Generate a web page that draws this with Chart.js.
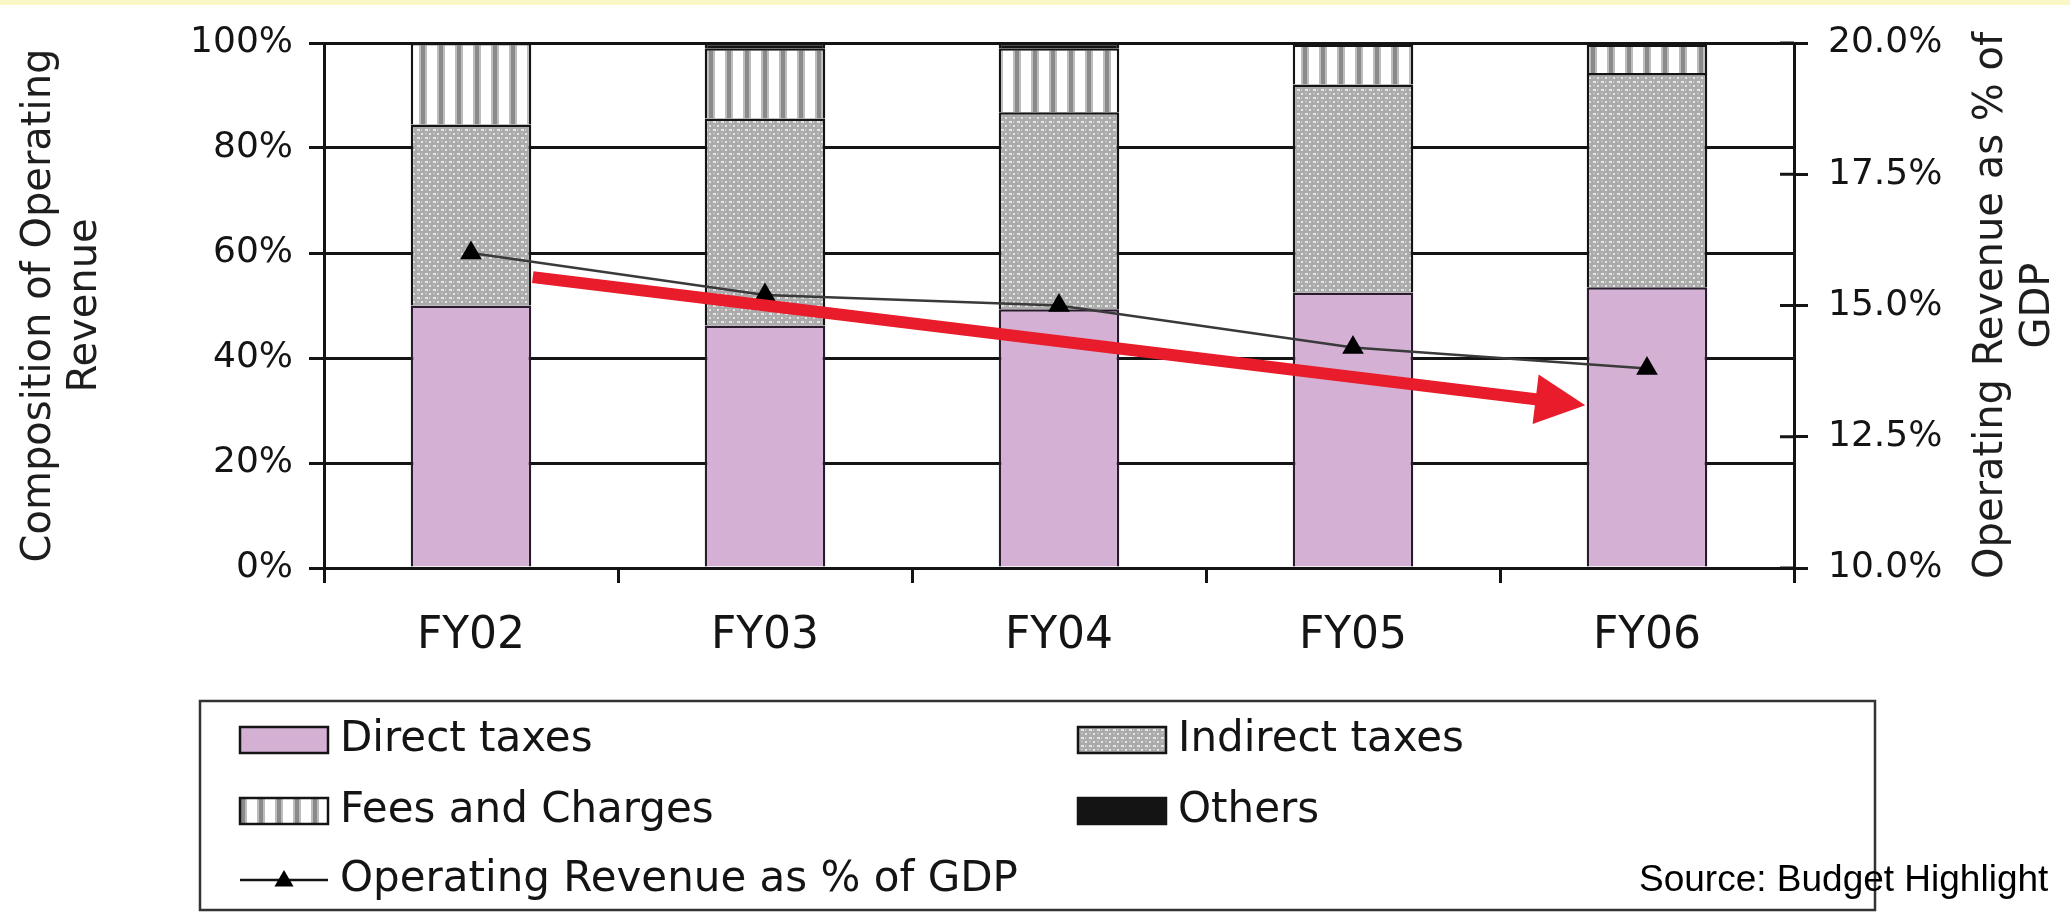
<!DOCTYPE html>
<html>
<head>
<meta charset="utf-8">
<title>Operating Revenue</title>
<script src="https://cdn.jsdelivr.net/npm/chart.js@4.4.1/dist/chart.umd.min.js"></script>
<style>
  html, body { margin: 0; padding: 0; }
  body {
    width: 2070px;
    height: 914px;
    overflow: hidden;
    background: linear-gradient(#faf6c6 0 5px, #ffffff 5px);
  }
</style>
</head>
<body>
<canvas id="revenueChart" width="2070" height="914"></canvas>
<script>
const years = ['FY02', 'FY03', 'FY04', 'FY05', 'FY06'];
const directTaxes = [50.0, 46.2, 49.3, 52.5, 53.5];
const indirectTaxes = [34.5, 39.4, 37.5, 39.6, 40.8];
const feesAndCharges = [15.5, 13.4, 12.2, 7.6, 5.4];
const others = [0, 1.0, 1.0, 0.3, 0.3];
const revenuePctGdp = [16.0, 15.2, 15.0, 14.2, 13.8];

const compositionTicks = [0, 20, 40, 60, 80, 100];
const gdpTicks = [10.0, 12.5, 15.0, 17.5, 20.0];

const leftAxisTitle = ['Composition of Operating', 'Revenue'];
const rightAxisTitle = ['Operating Revenue as % of', 'GDP'];
const sourceNote = 'Source: Budget Highlight';

// red trend arrow, given as [category index, composition %]
const arrowFrom = [0.21, 55.4];
const arrowTo = [3.79, 31.0];

const INK = '#141414';
const AXIS_FONT = 'DejaVu Sans';

// hatch fills like the old spreadsheet chart
function dotPattern() {
  const c = document.createElement('canvas');
  c.width = 8; c.height = 8;
  const g = c.getContext('2d');
  g.fillStyle = '#ababab';
  g.fillRect(0, 0, 8, 8);
  g.fillStyle = '#e4e4e4';
  g.fillRect(1, 1, 3, 2);
  g.fillRect(5, 5, 2, 2);
  g.fillStyle = '#c8c8c8';
  g.fillRect(5, 1, 1, 2);
  g.fillRect(1, 5, 2, 1);
  return g.createPattern(c, 'repeat');
}

function stripePattern() {
  const c = document.createElement('canvas');
  c.width = 18; c.height = 4;
  const g = c.getContext('2d');
  g.fillStyle = '#ffffff';
  g.fillRect(0, 0, 18, 4);
  g.fillStyle = '#bdbdbd';
  g.fillRect(5, 0, 8, 4);
  g.fillStyle = '#8a8a8a';
  g.fillRect(7, 0, 4, 4);
  return g.createPattern(c, 'repeat');
}

const indirectFill = dotPattern();
const feesFill = stripePattern();

function drawTriangle(ctx, x, y, r) {
  ctx.beginPath();
  ctx.moveTo(x, y - r);
  ctx.lineTo(x + r * 0.87, y + r * 0.5);
  ctx.lineTo(x - r * 0.87, y + r * 0.5);
  ctx.closePath();
  ctx.fill();
}

const overlay = {
  id: 'overlay',
  afterDatasetsDraw(chart) {
    const { ctx, scales } = chart;
    const x = scales.x, y = scales.y, y1 = scales.y1;

    // right axis ticks cross the axis line
    ctx.save();
    ctx.strokeStyle = INK;
    ctx.lineWidth = 3;
    y1.ticks.forEach(t => {
      const py = y1.getPixelForValue(t.value);
      ctx.beginPath();
      ctx.moveTo(y1.left - 14, py);
      ctx.lineTo(y1.left, py);
      ctx.stroke();
    });
    ctx.restore();

    // red arrow
    const x0 = x.getPixelForValue(arrowFrom[0]);
    const y0 = y.getPixelForValue(arrowFrom[1]);
    const x2 = x.getPixelForValue(arrowTo[0]);
    const y2 = y.getPixelForValue(arrowTo[1]);
    const ang = Math.atan2(y2 - y0, x2 - x0);
    const headLen = 50, headHalf = 25;
    const bx = x2 - headLen * Math.cos(ang);
    const by = y2 - headLen * Math.sin(ang);
    ctx.save();
    ctx.strokeStyle = '#e81c2a';
    ctx.fillStyle = '#e81c2a';
    ctx.lineWidth = 12;
    ctx.lineCap = 'butt';
    ctx.beginPath();
    ctx.moveTo(x0, y0);
    ctx.lineTo(bx + 2 * Math.cos(ang), by + 2 * Math.sin(ang));
    ctx.stroke();
    ctx.beginPath();
    ctx.moveTo(x2, y2);
    ctx.lineTo(bx + headHalf * Math.sin(ang), by - headHalf * Math.cos(ang));
    ctx.lineTo(bx - headHalf * Math.sin(ang), by + headHalf * Math.cos(ang));
    ctx.closePath();
    ctx.fill();
    ctx.restore();
  },
  afterDraw(chart) {
    const { ctx, chartArea, scales } = chart;

    // right axis title reads bottom to top
    ctx.save();
    ctx.fillStyle = '#1e1e1e';
    ctx.font = '40px "' + AXIS_FONT + '"';
    ctx.textAlign = 'center';
    ctx.textBaseline = 'middle';
    ctx.translate(scales.y1.left + 198, (chartArea.top + chartArea.bottom) / 2);
    ctx.rotate(-Math.PI / 2);
    rightAxisTitle.forEach((line, i) => ctx.fillText(line, 0, i * 47));
    ctx.restore();

    // legend box, two columns
    const box = { left: 200, top: 701, right: 1875, bottom: 910 };
    const cols = [240, 1078];
    const rows = [740, 811, 880];
    ctx.save();
    ctx.fillStyle = '#ffffff';
    ctx.fillRect(box.left, box.top, box.right - box.left, box.bottom - box.top);
    ctx.strokeStyle = '#333';
    ctx.lineWidth = 2.5;
    ctx.strokeRect(box.left, box.top, box.right - box.left, box.bottom - box.top);
    ctx.font = '42px "' + AXIS_FONT + '"';
    ctx.textBaseline = 'middle';
    chart.data.datasets.forEach((ds, i) => {
      const cx = cols[i % 2];
      const cy = rows[Math.floor(i / 2)];
      if (ds.type === 'line') {
        ctx.strokeStyle = INK;
        ctx.lineWidth = 2.5;
        ctx.beginPath();
        ctx.moveTo(cx, cy);
        ctx.lineTo(cx + 88, cy);
        ctx.stroke();
        ctx.fillStyle = '#000';
        drawTriangle(ctx, cx + 44, cy + 1, 11);
      } else {
        ctx.fillStyle = ds.backgroundColor;
        ctx.fillRect(cx, cy - 13, 88, 26);
        ctx.strokeStyle = INK;
        ctx.lineWidth = 2.5;
        ctx.strokeRect(cx, cy - 13, 88, 26);
      }
      ctx.fillStyle = INK;
      ctx.fillText(ds.label, cx + 100, cy);
    });

    // source note sits over the legend border
    ctx.font = '37px "Liberation Sans"';
    ctx.fillStyle = '#000';
    ctx.textAlign = 'left';
    ctx.fillText(sourceNote, 1639, 881);
    ctx.restore();
  }
};

const barBase = {
  type: 'bar',
  borderColor: INK,
  borderWidth: 2.5,
  barPercentage: 0.41,
  categoryPercentage: 1.0,
  order: 1
};

const chart = new Chart(document.getElementById('revenueChart'), {
  data: {
    labels: years,
    datasets: [
      { ...barBase, label: 'Direct taxes', data: directTaxes, backgroundColor: '#d4b0d4', borderColor: '#2a1a2e' },
      { ...barBase, label: 'Indirect taxes', data: indirectTaxes, backgroundColor: indirectFill },
      { ...barBase, label: 'Fees and Charges', data: feesAndCharges, backgroundColor: feesFill },
      { ...barBase, label: 'Others', data: others, backgroundColor: '#141414' },
      {
        type: 'line',
        label: 'Operating Revenue as % of GDP',
        data: revenuePctGdp,
        yAxisID: 'y1',
        order: 0,
        borderColor: '#3a3a3a',
        borderWidth: 2.5,
        tension: 0,
        pointStyle: 'triangle',
        pointRadius: 10,
        pointBackgroundColor: '#000',
        pointBorderColor: '#000'
      }
    ]
  },
  options: {
    responsive: false,
    devicePixelRatio: 1,
    animation: false,
    events: [],
    layout: { padding: { top: 43, bottom: 246, left: 0, right: 0 } },
    plugins: {
      legend: { display: false },
      tooltip: { enabled: false }
    },
    scales: {
      x: {
        stacked: true,
        offset: true,
        grid: { offset: true, drawOnChartArea: false, tickLength: 15, color: INK, lineWidth: 3 },
        border: { color: INK, width: 3 },
        ticks: { color: INK, font: { family: AXIS_FONT, size: 44 }, padding: 27, maxRotation: 0 },
        afterFit: s => { s.height = 100; }
      },
      y: {
        stacked: true,
        position: 'left',
        min: 0,
        max: 100,
        afterBuildTicks: s => { s.ticks = compositionTicks.map(v => ({ value: v })); },
        ticks: { color: INK, font: { family: AXIS_FONT, size: 36 }, padding: 16, callback: v => v + '%' },
        grid: { color: INK, lineWidth: 3, tickLength: 15 },
        border: { color: INK, width: 3 },
        title: {
          display: true,
          text: leftAxisTitle,
          color: '#1e1e1e',
          font: { family: AXIS_FONT, size: 40, lineHeight: 1.15 },
          padding: { top: 17, bottom: 0 }
        },
        afterFit: s => { s.width = 324; }
      },
      y1: {
        position: 'right',
        min: 10,
        max: 20,
        afterBuildTicks: s => { s.ticks = gdpTicks.map(v => ({ value: v })); },
        ticks: { color: INK, font: { family: AXIS_FONT, size: 36 }, padding: 20, callback: v => v.toFixed(1) + '%' },
        grid: { drawOnChartArea: false, tickLength: 14, color: INK, lineWidth: 3 },
        border: { color: INK, width: 3 },
        afterFit: s => { s.width = 276; }
      }
    }
  },
  plugins: [overlay]
});
</script>
</body>
</html>
